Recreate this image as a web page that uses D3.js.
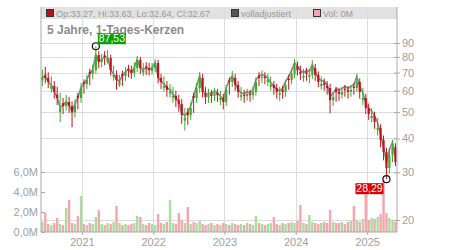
<!DOCTYPE html>
<html lang="de">
<head>
<meta charset="utf-8">
<title>5 Jahre, 1-Tages-Kerzen</title>
<script src="https://d3js.org/d3.v7.min.js"></script>
<style>
  body { margin: 0; background: #fff; }
  svg { display: block; font-family: "Liberation Sans", Arial, sans-serif; }
  .axis text { font-size: 11px; fill: #a0a0a0; }
  .axis path, .axis line { stroke: #aaa; }
  .legend { font-size: 9px; fill: #999; }
  .title { font-size: 12px; font-weight: bold; fill: #8c8c8c; }
</style>
</head>
<body>
<svg width="450" height="250"></svg>
<script>
// half-monthly candles (price in EUR)
const opens = [65.5,68.8,66.9,61.0,62.5,58.0,50.0,54.0,52.7,54.5,
  52.7,50.0,57.5,56.4,64.5,63.5,70.5,69.2,71.5,81.3,
  76.6,81.0,77.0,79.2,67.5,68.6,63.0,69.0,68.0,72.5,
  71.5,69.7,72.7,77.9,70.0,73.8,72.7,71.0,72.7,75.9,
  66.9,61.5,62.5,58.5,56.5,57.4,55.4,53.6,46.5,50.0,
  48.8,57.5,56.4,61.4,66.9,58.5,56.9,58.5,57.4,58.9,
  55.5,56.4,54.5,65.5,64.6,66.9,63.0,57.0,57.8,57.4,
  58.4,57.8,59.4,68.0,66.9,67.4,64.5,62.0,63.0,61.4,
  58.0,60.5,59.4,66.5,65.7,69.2,74.0,70.5,67.0,70.5,
  67.5,68.6,72.7,68.6,62.5,64.0,62.5,61.4,55.4,60.5,
  59.4,58.0,61.0,60.4,59.4,62.2,61.4,64.6,55.5,56.4,
  51.8,47.5,48.4,43.0,43.7,39.5,35.6,31.1,34.7,37.1];
const highs = [71.8,73.4,70.2,67.7,65.1,62.0,58.9,56.4,57.9,56.9,
  54.8,55.9,58.9,64.1,66.1,68.7,72.3,74.8,87.53,84.0,
  82.0,84.0,84.8,81.5,74.3,71.2,68.7,71.2,73.3,74.8,
  74.3,76.4,80.6,80.0,75.9,76.4,75.9,75.9,78.5,78.0,
  69.2,67.7,65.1,63.6,62.0,60.0,57.9,55.9,51.8,51.8,
  54.3,58.9,64.1,70.3,69.2,62.0,61.0,60.5,61.5,61.0,
  60.0,58.4,63.0,67.1,71.0,69.2,65.1,62.0,60.5,61.0,
  60.5,62.0,67.1,70.2,71.2,70.2,69.2,67.7,65.1,63.6,
  62.0,62.5,65.6,68.7,72.3,78.5,76.9,74.3,72.3,72.8,
  72.3,77.8,75.3,70.7,67.7,66.6,65.1,63.6,59.5,62.0,
  61.5,62.0,63.0,62.5,63.0,64.1,69.3,66.6,61.5,58.4,
  53.8,51.8,50.2,47.7,45.1,41.0,36.9,36.9,39.5,38.4];
const lows = [62.4,63.9,61.4,59.0,56.1,53.1,46.0,49.2,50.7,49.7,
  44.0,47.8,51.2,54.1,58.5,60.9,62.9,66.3,69.2,72.6,
  73.1,74.6,75.6,68.3,65.3,60.5,61.9,62.4,65.3,67.3,
  66.3,67.3,70.2,69.2,67.8,68.7,68.3,68.7,70.2,63.9,
  60.9,59.5,57.0,56.6,54.1,52.2,50.2,45.3,42.8,44.9,
  46.8,49.7,54.1,59.0,56.6,53.6,54.1,54.1,55.1,54.6,
  53.1,51.2,52.7,58.0,61.9,60.0,56.6,55.1,54.1,55.1,
  54.6,55.6,57.5,62.4,63.9,63.4,62.4,60.0,58.0,56.1,
  55.0,56.1,57.0,60.5,63.4,66.8,68.3,65.8,64.8,65.3,
  63.9,66.3,65.3,61.9,60.5,60.0,58.0,49.5,52.7,54.6,
  55.1,56.1,57.0,56.1,57.0,58.0,59.5,56.1,53.1,49.2,
  46.8,45.8,43.4,41.0,37.1,33.2,28.29,29.7,32.7,31.6];
const closes = [67.4,66.9,64.6,62.5,59.4,56.4,51.8,52.7,54.5,52.7,
  50.0,53.1,56.4,61.4,63.5,65.7,69.2,71.5,81.3,76.6,
  77.9,79.9,79.2,71.5,68.6,65.7,64.6,68.0,70.3,71.5,
  69.7,72.7,77.9,72.7,71.5,72.7,71.5,72.7,75.9,66.9,
  64.6,62.5,60.4,59.4,57.4,55.4,53.6,48.8,47.6,48.8,
  51.8,56.4,61.4,66.9,59.4,56.9,57.8,57.4,58.9,57.8,
  56.4,54.5,60.4,64.6,66.9,63.0,59.4,57.8,57.4,58.4,
  57.8,59.4,64.6,66.9,67.4,66.9,65.7,63.0,61.4,59.4,
  58.9,59.4,63.0,65.7,69.2,74.0,71.5,69.2,68.0,69.2,
  68.6,72.7,68.6,64.6,63.5,63.0,61.4,55.4,56.9,59.4,
  58.4,59.4,60.4,59.4,60.4,61.4,64.6,59.4,56.4,51.8,
  49.2,48.4,46.0,43.7,39.5,35.6,31.1,34.7,37.1,32.67];
// fully adjusted close (grey line)
const adjusted = [67.7,67.2,64.9,62.8,59.6,56.6,52.0,52.9,54.7,52.9,
  50.2,53.3,56.6,61.6,63.8,66.0,69.5,71.8,81.6,76.9,
  78.2,80.2,79.5,71.8,68.9,66.0,64.9,68.3,70.6,71.8,
  70.0,73.0,78.2,73.0,71.8,73.0,71.8,73.0,76.2,67.2,
  64.9,63.6,61.5,60.5,58.4,56.4,54.6,49.7,48.5,49.7,
  52.7,57.4,62.5,68.1,60.5,57.9,58.8,58.4,60.0,58.8,
  57.4,55.5,61.5,65.8,68.1,64.1,60.5,58.8,58.4,59.5,
  58.8,60.5,65.8,68.1,68.6,68.1,66.9,64.1,62.5,60.5,
  60.0,61.2,64.9,67.7,71.3,76.2,73.6,71.3,70.0,71.3,
  70.7,74.9,70.7,66.5,65.4,64.9,63.2,57.1,58.6,61.2,
  60.2,61.2,62.2,61.2,62.2,63.2,67.5,62.1,58.9,54.1,
  51.4,50.6,48.1,45.7,41.3,37.2,32.5,36.3,38.8,34.1];
// volume in millions
const volumes = [1.0,1.9,0.8,0.7,0.9,1.4,0.8,0.7,2.4,3.2,
  0.9,0.8,1.6,3.6,0.8,0.7,0.9,0.8,1.5,2.2,
  0.8,0.7,0.9,0.8,1.0,2.6,0.9,0.7,0.8,0.7,
  0.8,0.9,1.6,1.5,0.8,0.7,0.9,0.8,0.7,1.8,
  0.9,0.8,1.0,3.2,0.9,0.8,1.9,1.2,0.9,2.5,
  0.8,1.0,0.9,1.1,0.8,0.7,0.8,0.9,0.7,0.8,
  0.7,0.9,0.8,0.7,0.9,0.8,0.7,0.8,0.7,0.9,
  0.8,0.7,1.6,0.9,0.8,0.7,0.8,0.9,1.5,0.8,
  0.7,0.9,0.8,0.9,1.0,0.9,1.1,2.7,0.9,0.8,
  1.7,1.0,0.9,0.8,0.9,1.0,0.9,2.2,1.0,0.9,
  0.9,1.0,0.8,1.0,1.1,2.6,1.2,1.0,1.3,3.9,
  1.2,1.4,1.3,1.5,1.8,5.2,1.9,1.4,1.2,1.0];

const priceTicks = [20, 30, 40, 50, 60, 70, 80, 90];
const volTicks = [0, 2, 4, 6];
const years = [2021, 2022, 2023, 2024, 2025];
const lastDay = { op: "33.27", hi: "33.63", lo: "32.64", cl: "32.67" };

// one candle every ~half month
const dates = d3.range(closes.length).map(i => d3.timeDay.offset(new Date(2020, 5, 12), Math.round(i * 15.2)));
const data = dates.map((d, i) => ({ date: d, o: opens[i], h: highs[i], l: lows[i], c: closes[i], adj: adjusted[i], v: volumes[i] }));

const de = d3.formatLocale({ decimal: ",", thousands: ".", grouping: [3], currency: ["", "€"] });

const pLeft = 41, pRight = 397, pTop = 7, pBottom = 232;
const svg = d3.select("svg");

const x = d3.scaleTime().domain([new Date(2020, 5, 5), new Date(2025, 5, 3)]).range([pLeft, pRight]);
const y = d3.scaleLog().domain([18.06, 122.2]).range([pBottom, pTop]);
const yv = d3.scaleLinear().domain([0, 22.5]).range([pBottom, pTop]);

// header band
svg.append("rect").attr("x", pLeft).attr("y", pTop).attr("width", pRight - pLeft).attr("height", 12).attr("fill", "#e2e2e2");

// grid
svg.append("g").selectAll("line").data(priceTicks).join("line")
  .attr("x1", pLeft).attr("x2", pRight).attr("y1", d => Math.round(y(d)) + 0.5).attr("y2", d => Math.round(y(d)) + 0.5)
  .attr("stroke", "#dcdcdc");
svg.append("g").selectAll("line").data(years).join("line")
  .attr("x1", d => Math.round(x(new Date(d, 0, 1))) + 0.5).attr("x2", d => Math.round(x(new Date(d, 0, 1))) + 0.5)
  .attr("y1", pTop).attr("y2", pBottom).attr("stroke", "#dcdcdc");

// volume bars
svg.append("g").selectAll("rect").data(data).join("rect")
  .attr("x", d => x(d.date) - 1.2).attr("width", 2.4)
  .attr("y", d => yv(d.v)).attr("height", d => pBottom - yv(d.v))
  .attr("fill", d => d.c >= d.o ? "#a9dc9f" : "#f2a6b0");

// adjusted line
svg.append("path").datum(data)
  .attr("d", d3.line().x(d => x(d.date)).y(d => y(d.adj)))
  .attr("fill", "none").attr("stroke", "#8a8a8a").attr("stroke-width", 1.6);

// candles
const candle = svg.append("g").selectAll("g").data(data).join("g")
  .attr("stroke", d => d.c >= d.o ? "#3faa2c" : "#c0141c")
  .attr("fill", d => d.c >= d.o ? "#3faa2c" : "#c0141c");
candle.append("line")
  .attr("x1", d => x(d.date)).attr("x2", d => x(d.date))
  .attr("y1", d => y(d.h)).attr("y2", d => y(d.l)).attr("stroke-width", 1);
candle.append("rect")
  .attr("x", d => x(d.date) - 1.1).attr("width", 2.2)
  .attr("y", d => y(Math.max(d.o, d.c))).attr("height", d => Math.max(1, Math.abs(y(d.o) - y(d.c))))
  .attr("stroke", "none");

// axes
const ax = svg.append("g").attr("class", "axis").attr("transform", `translate(${pRight},0)`)
  .call(d3.axisRight(y).tickValues(priceTicks).tickFormat(d3.format("d")).tickSize(3).tickPadding(2));
ax.select(".domain").attr("d", `M0,${pTop}V${pBottom}`);
ax.selectAll(".tick line").attr("x1", -3);

const axl = svg.append("g").attr("class", "axis").attr("transform", `translate(${pLeft},0)`)
  .call(d3.axisLeft(yv).tickValues(volTicks).tickFormat(d => de.format(".1f")(d) + "M").tickSize(0).tickPadding(3));
axl.select(".domain").attr("d", `M0,${pTop}V${pBottom}`);
axl.selectAll(".tick").append("line").attr("x2", 4).attr("stroke", "#aaa");

const axb = svg.append("g").attr("class", "axis").attr("transform", `translate(0,${pBottom})`)
  .call(d3.axisBottom(x).tickValues(years.map(yr => new Date(yr, 0, 1))).tickFormat(d3.timeFormat("%Y")).tickSize(3).tickPadding(3));
axb.select(".domain").attr("d", `M${pLeft},0H${pRight}`);

// legend row
const legend = [
  { x: 46, fill: "#b5121b", label: `Op:${lastDay.op}, Hi:${lastDay.hi}, Lo:${lastDay.lo}, Cl:${lastDay.cl}` },
  { x: 231, fill: "#555", label: "volladjustiert" },
  { x: 313, fill: "#f2a6b0", label: "Vol: 0M" }
];
const lg = svg.append("g").selectAll("g").data(legend).join("g");
lg.append("rect").attr("x", d => d.x + 0.5).attr("y", 9.5).attr("width", 7).attr("height", 7)
  .attr("fill", d => d.fill).attr("stroke", "#333");
lg.append("text").attr("class", "legend").attr("x", d => d.x + 10).attr("y", 16.5).text(d => d.label);

svg.append("text").attr("class", "title").attr("x", 47).attr("y", 34).text("5 Jahre, 1-Tages-Kerzen");

// max / min markers
const hiD = data[d3.maxIndex(data, d => d.h)];
const loD = data[d3.minIndex(data, d => d.l)];
const marks = [
  { px: x(hiD.date), py: y(hiD.h), v: hiD.h, fill: "#06a000", bx: 2, by: -13 },
  { px: x(loD.date), py: y(loD.l), v: loD.l, fill: "#dd0000", bx: -31, by: 4 }
];
const mk = svg.append("g").selectAll("g").data(marks).join("g");
mk.append("circle").attr("cx", d => d.px).attr("cy", d => d.py).attr("r", 3.5)
  .attr("fill", "none").attr("stroke", "#111").attr("stroke-width", 1.2);
mk.append("rect").attr("x", d => d.px + d.bx).attr("y", d => d.py + d.by)
  .attr("width", 28).attr("height", 11).attr("fill", d => d.fill);
mk.append("text").attr("x", d => d.px + d.bx + 14).attr("y", d => d.py + d.by + 9)
  .attr("text-anchor", "middle").attr("fill", "#fff").attr("font-size", 10.5)
  .text(d => de.format(".2f")(d.v));
</script>
</body>
</html>
